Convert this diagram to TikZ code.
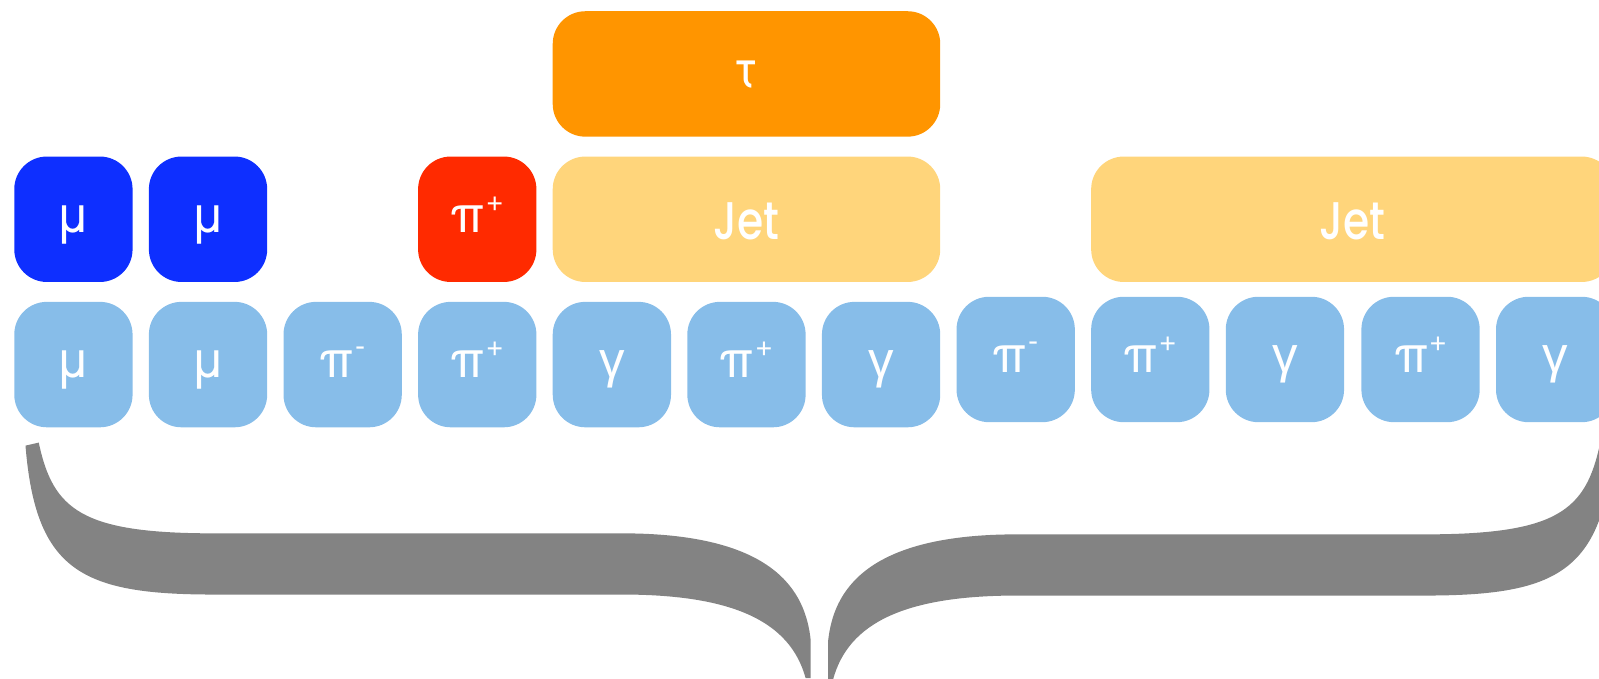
\documentclass[tikz,border=0pt]{standalone}
\usepackage{fontspec}
\newfontfamily\gkfont{TeX Gyre Heros}
\newfontfamily\gamfont{Liberation Sans}
\newfontfamily\jetfont{Poppins Medium}[FakeStretch=0.8]
\definecolor{muon}{HTML}{0E2FFF}
\definecolor{pion}{HTML}{FF2A00}
\definecolor{tauc}{HTML}{FF9500}
\definecolor{jetc}{HTML}{FFD57B}
\definecolor{cand}{HTML}{87BDE9}
\definecolor{bracec}{HTML}{838383}
% small raised charge sign
\newcommand\chg[1]{\kern0.5pt\raisebox{10.5pt}{\fontsize{15}{15}\selectfont #1}}
\begin{document}
\begin{tikzpicture}[x=0.5pt,y=-0.5pt,
  tile/.style={rounded corners=16pt, inner sep=0pt, minimum width=58pt,
    minimum height=61.5pt, text=white, text height=13pt, text depth=0pt,
    font=\gkfont\fontsize{25}{25}\selectfont},
  pfc/.style={tile, fill=cand},
  phot/.style={pfc, font=\gamfont\fontsize{25}{25}\selectfont},
  mubox/.style={tile, fill=muon},
  pibox/.style={tile, fill=pion},
  jetbox/.style={tile, fill=jetc, text height=20pt,
    font=\jetfont\fontsize{26}{26}\selectfont},
  taubox/.style={tile, fill=tauc},
  brace/.style={fill=bracec}]
\useasboundingbox (0,0) rectangle (1568,665);
\clip (0,0) rectangle (1568,665);

% particle-flow candidates
\node[pfc]  (c1)  at (72,357.5)   {μ};
\node[pfc]  (c2)  at (204,357.5)  {μ};
\node[pfc]  (c3)  at (336,357.5)  {π\chg{-}};
\node[pfc]  (c4)  at (468,357.5)  {π\chg{+}};
\node[phot] (c5)  at (600,357.5)  {γ};
\node[pfc]  (c6)  at (732,357.5)  {π\chg{+}};
\node[phot] (c7)  at (864,357.5)  {γ};
\node[pfc]  (c8)  at (996,352.5)  {π\chg{-}};
\node[pfc]  (c9)  at (1128,352.5) {π\chg{+}};
\node[phot] (c10) at (1260,352.5) {γ};
\node[pfc]  (c11) at (1393,352.5) {π\chg{+}};
\node[phot] (c12) at (1525,352.5) {γ};

% reconstructed objects
\node[mubox] (m1) at (72,215)  {μ};
\node[mubox] (m2) at (204,215) {μ};
\node[pibox] (p1) at (468,215) {π\chg{+}};
\node[jetbox, minimum width=190pt] (j1) at (732,215) {Jet};
\node[jetbox, minimum width=256.5pt] (j2) at (1326.5,215) {Jet};
\node[taubox, minimum width=190pt] (t1) at (732,72.5) {τ};

% grouping brace under the candidates
\fill[brace] (25,437) .. controls (35,560) and (80,583) .. (210,583)
  -- (610,583) .. controls (720,583) and (775,610) .. (790,665)
  -- (795,665) -- (795,628) .. controls (790,580) and (760,523) .. (610,523)
  -- (210,523) .. controls (80,523) and (52,500) .. (38,434) -- cycle;
\begin{scope}[shift={(1607,1)}, xscale=-1]
\fill[brace] (25,437) .. controls (35,560) and (80,583) .. (210,583)
  -- (610,583) .. controls (720,583) and (775,610) .. (790,665)
  -- (795,665) -- (795,628) .. controls (790,580) and (760,523) .. (610,523)
  -- (210,523) .. controls (80,523) and (52,500) .. (38,434) -- cycle;
\end{scope}
\end{tikzpicture}
\end{document}
